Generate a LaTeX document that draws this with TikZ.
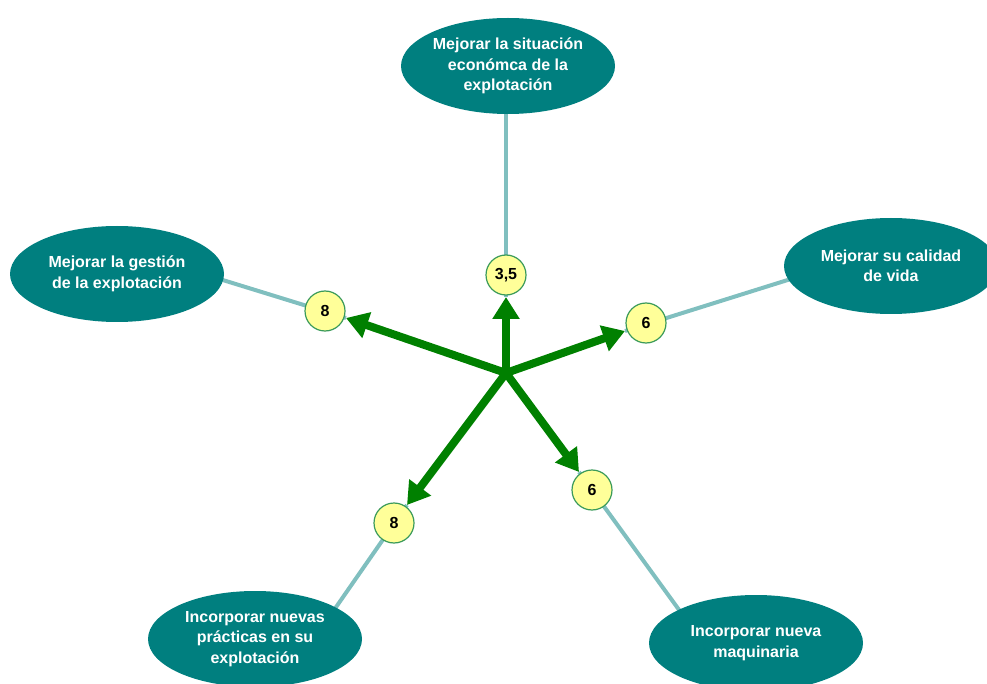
\documentclass[tikz,border=0pt]{standalone}
\usepackage{fontspec}
\setmainfont{Liberation Sans}
\usetikzlibrary{shapes.geometric,arrows.meta}
\definecolor{ellteal}{HTML}{007F7F}
\definecolor{linteal}{HTML}{80BFBF}
\definecolor{arrgreen}{HTML}{008000}
\definecolor{circfill}{HTML}{FFFF99}
\definecolor{circdraw}{HTML}{3A9A5A}
\tikzset{
  goal/.style={ellipse, fill=ellteal, minimum width=214pt, minimum height=96pt, inner sep=0pt,
    text=white, font=\bfseries\fontsize{16}{20.5}\selectfont, align=center},
  score/.style={circle, fill=circfill, draw=circdraw, line width=1.2pt, minimum size=40pt, inner sep=0pt,
    font=\bfseries\fontsize{16}{18}\selectfont},
  tline/.style={draw=linteal, line width=4pt},
  bigarrow/.style={draw=arrgreen, line width=8pt, -{Triangle[width=26pt,length=22pt]}}
}
\begin{document}
\begin{tikzpicture}[x=1pt,y=-1pt]
\useasboundingbox (0,0) rectangle (987,684);
% coordinates
\coordinate (ctr) at (506,373);
\coordinate (t1) at (506,297);
\coordinate (t2) at (346,318);
\coordinate (t3) at (625,331);
\coordinate (t4) at (579,472);
\coordinate (t5) at (407,505);
\coordinate (p1) at (506,100);
\coordinate (p2) at (200,273);
\coordinate (p3) at (810,273);
\coordinate (p4) at (690,625);
\coordinate (p5) at (325,623);
% light teal lines
\draw[tline] (p1) -- (t1);
\draw[tline] (p2) -- (t2);
\draw[tline] (p3) -- (t3);
\draw[tline] (p4) -- (t4);
\draw[tline] (p5) -- (t5);
% ellipses
\node[goal] (e1) at (508,66) {Mejorar la situación\\económca de la\\explotación};
\node[goal] (e2) at (117,274) {Mejorar la gestión\\de la explotación};
\node[goal] (e3) at (891,266) {Mejorar su calidad\\de vida};
\node[goal] (e4) at (756,643) {Incorporar nueva\\maquinaria};
\node[goal] (e5) at (255,639) {Incorporar nuevas\\prácticas en su\\explotación};
% arrows
\draw[bigarrow] (ctr) -- (t1);
\draw[bigarrow] (ctr) -- (t2);
\draw[bigarrow] (ctr) -- (t3);
\draw[bigarrow] (ctr) -- (t4);
\draw[bigarrow] (ctr) -- (t5);
% scores
\node[score] (n1) at (506,275) {3,5};
\node[score] (n2) at (325,311) {8};
\node[score] (n3) at (646,323) {6};
\node[score] (n4) at (592,490) {6};
\node[score] (n5) at (394,523) {8};
\end{tikzpicture}
\end{document}
